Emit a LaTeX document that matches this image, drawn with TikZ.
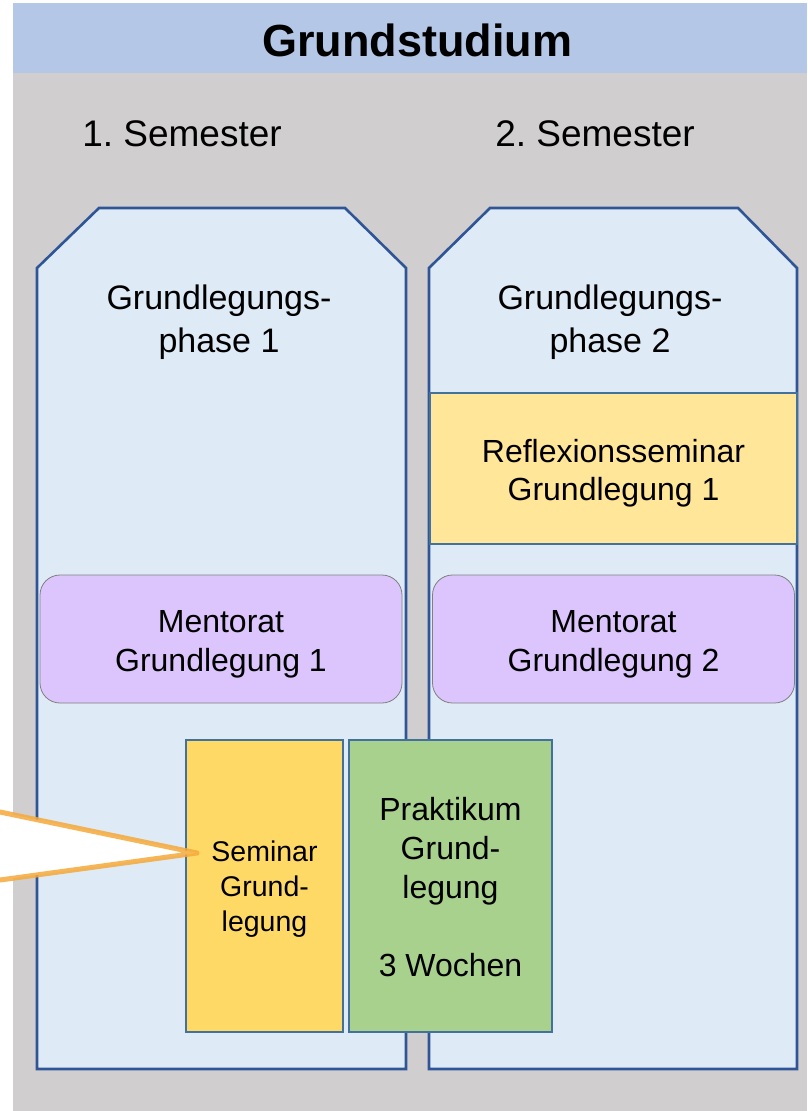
\documentclass[tikz,border=0pt]{standalone}
\usepackage{fontspec}
\setmainfont{Liberation Sans}
\frenchspacing
\definecolor{bggray}{HTML}{D0CECE}
\definecolor{hdrblue}{HTML}{B4C7E7}
\definecolor{colfill}{HTML}{DEEBF7}
\definecolor{colstroke}{HTML}{2F5597}
\definecolor{boxstroke}{HTML}{41719C}
\definecolor{reflfill}{HTML}{FFE699}
\definecolor{semfill}{HTML}{FFD966}
\definecolor{prakfill}{HTML}{A9D18E}
\definecolor{mentfill}{HTML}{DCC5FD}
\definecolor{mentstroke}{HTML}{7F7F7F}
\definecolor{callorange}{HTML}{F5A93A}
\begin{document}
\begin{tikzpicture}[x=1pt,y=-1pt,
  column/.style={fill=colfill,draw=colstroke,line width=2.6pt,line join=miter},
  txt/.style={inner sep=0pt,align=center,text=black},
  plainbox/.style={draw=boxstroke,line width=1.3pt,inner sep=0pt},
  mentbox/.style={draw=mentstroke,line width=0.8pt,fill=mentfill,rounded corners=20pt,
    minimum width=362pt,minimum height=128pt,inner sep=0pt},
  calloutline/.style={draw=callorange,draw opacity=0.85,line width=5pt,line cap=round,line join=round}]
\useasboundingbox (0,0) rectangle (807,1111);
% background
\fill[white] (0,0) rectangle (807,1111);
\fill[bggray] (13,3) rectangle (807,1111);
\fill[hdrblue] (13,3) rectangle (807,73);
\node[txt,font=\bfseries\fontsize{45}{50}\selectfont] (title) at (417,40) {Grundstudium};
\node[txt,font=\fontsize{37}{44}\selectfont] (sem1) at (182,134) {1. Semester};
\node[txt,font=\fontsize{37}{44}\selectfont] (sem2) at (595,134) {2. Semester};
% columns
\draw[column] (37,268) -- (99,208) -- (345,208) -- (406,268) -- (406,1069) -- (37,1069) -- cycle;
\draw[column] (429,268) -- (490,208) -- (738,208) -- (797,268) -- (797,1069) -- (429,1069) -- cycle;
\node[txt,font=\fontsize{34}{43}\selectfont] (phase1) at (219,322) {Grundlegungs-\\phase 1};
\node[txt,font=\fontsize{34}{43}\selectfont] (phase2) at (610,322) {Grundlegungs-\\phase 2};
% Reflexionsseminar
\node[plainbox,fill=reflfill,minimum width=367pt,minimum height=151pt] (refl) at (613.5,468.5) {};
\node[txt,font=\fontsize{32}{38}\selectfont] (refltext) at ([yshift=-5pt]refl.center) {Reflexionsseminar\\Grundlegung 1};
% Mentorat
\node[mentbox] (ment1) at (221,639) {};
\node[txt,font=\fontsize{32}{39}\selectfont] (ment1text) at ([yshift=-5pt]ment1.center) {Mentorat\\Grundlegung 1};
\node[mentbox] (ment2) at (613.5,639) {};
\node[txt,font=\fontsize{32}{39}\selectfont] (ment2text) at ([yshift=-5pt]ment2.center) {Mentorat\\Grundlegung 2};
% Seminar and Praktikum
\node[plainbox,fill=semfill,minimum width=157pt,minimum height=292pt] (sem) at (264.5,886) {};
\node[txt,font=\fontsize{28.5}{35}\selectfont] (semtext) at ([yshift=-3pt]sem.center) {Seminar\\Grund-\\legung};
\node[plainbox,fill=prakfill,minimum width=203pt,minimum height=292pt] (prak) at (450.5,886) {};
\node[txt,font=\fontsize{32}{39}\selectfont] (praktext) at ([yshift=-1.5pt]prak.center) {Praktikum\\Grund-\\legung\\[39pt]3 Wochen};
% callout
\coordinate (tip) at (197,853);
\coordinate (cu) at (0,812);
\coordinate (cl) at (0,880);
\fill[white] (cu) -- (tip) -- (cl) -- cycle;
\draw[calloutline] (cu) -- (tip) -- (cl);
\end{tikzpicture}
\end{document}
